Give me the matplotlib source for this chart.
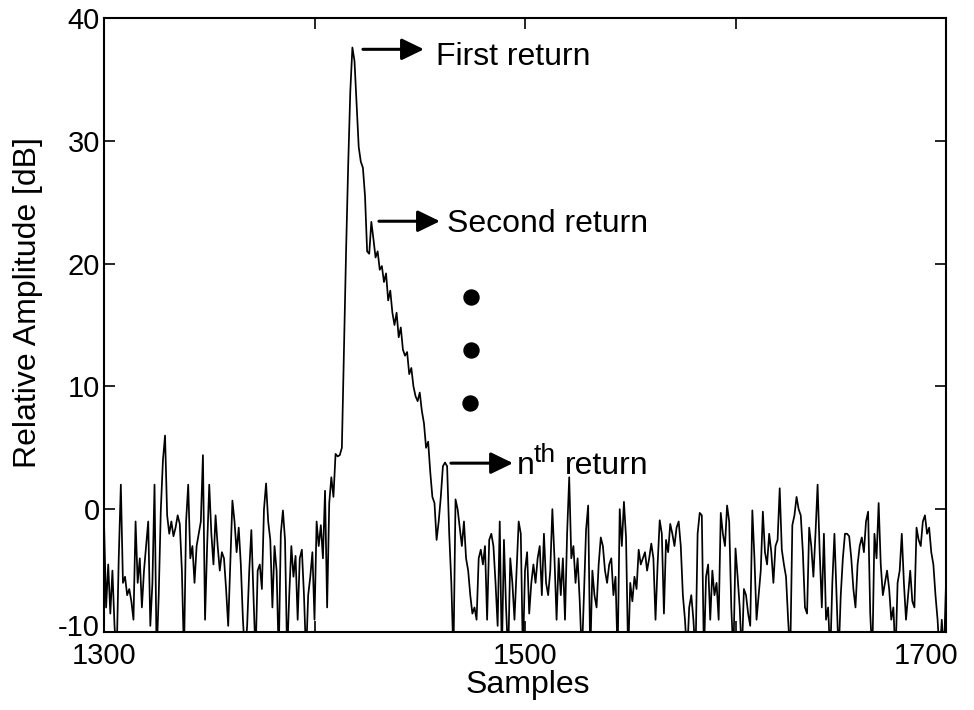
import numpy as np
import matplotlib
matplotlib.use("Agg")
import matplotlib.pyplot as plt
from matplotlib.transforms import ScaledTranslation

plt.rcParams['font.family'] = ['Liberation Sans', 'DejaVu Sans']

start_sample = 1300

# Noise before the echo (samples 1300..1413)
amp_pre = [
    -1, -8, -4.5, -8.5, -5, -9.5, -12, -4, 2, -6,
    -5.5, -7, -6.5, -7.5, -9, -1, -6, -4, -8, -5,
    -3, -1, -9.5, -6, 2, -12, -7, 0, 4, 6,
    -0.5, -2, -1, -2.2, -1.5, -0.5, -1.2, -5, -12, -1,
    2, -4, -3, -6, -3, -2, -1, 4.4, -9, -3,
    2, -2, -4.5, -0.5, -3, -5, -3.5, -4, -6.5, -9.5,
    -4.5, 0.7, -1, -3.5, -1.5, -4.5, -9, -12, -9.5, -5,
    -1.7, -7, -12, -5, -4.5, -6.5, 0, 2.1, -1, -2.5,
    -8, -3, -5, -12, -2, -0.1, -2.5, -12, -7, -3,
    -5.5, -3.8, -9, -4, -3.3, -7, -12, -7, -5.5, -3.5,
    -9, -1, -3, -1.3, -4, 1.5, -8, 0.5, 2.6, 1,
    4.5, 4.3, 4.4, 5,
]

# Echo: first return, decay, second ... nth return (samples 1414..1466)
amp_echo = [
    13, 21, 28, 34, 37.6, 36.5, 33, 29.5, 28.3, 27.8,
    25.5, 21, 20.8, 23.4, 22, 20.5, 21, 19.5, 19.8, 18.5,
    19.2, 17, 17.8, 16, 15, 16, 14, 14.8, 13, 12.5,
    12.8, 11, 11.5, 10, 9.2, 8.8, 9.5, 8, 7, 5,
    5.5, 3, 1, 0.5, -2.5, -1, 1, 3.5, 3.8, 3.5,
    -2, -6, -12,
]

# Noise after the echo (samples 1467..1700)
amp_post = [
    0.8, 0, -1.5, -3, -1, -4, -5, -7, -8.5, -8,
    -9, -4, -3.3, -4.5, -3, -9, -2.5, -2, -3, -6,
    -9.5, -1, -12, -2.5, -8, -12, -4, -6, -9, -5,
    -1, -2, -12, -5, -3.5, -8.5, -6, -4.5, -6, -4,
    -3, -7, -2, -6, -7, -5, 0, -4, -9, -4,
    -7, -4, -9, -2, 2.6, -4, -3, -6, -4, -7.5,
    -12, -7, -1.7, 0.3, -12, -5, -7, -8, -4.5, -2.3,
    -3, -5, -6, -4.5, -4, -7, -5.5, -12, 0, -3,
    0.6, -2.3, -12, -6, -7.5, -5.5, -6.5, -3.3, -4.5, -4,
    -3.5, -5, -4, -2.8, -4, -9, -4.5, -0.9, -2, -8.5,
    -2.5, -3.5, -1.2, -2, -3, -1.5, -1, -3, -7, -9,
    -12, -8, -7, -9, -12, -2, -0.3, -0.5, -12, -5.5,
    -4.5, -9, -5, -7, -6, -9, -0.3, -2, -3, 0.3,
    -1, -8, -12, -3.2, -5.5, -8, -12, -6.5, -7, -8.5,
    -9.5, -0.1, -4, -9, -7, -5, -0.2, -3.5, -4.5, -2,
    -3.5, -6, -3, -2.5, 1.7, -3.3, -4.5, -5.5, -9, -12,
    -1.3, -0.5, 1, 0, -0.5, -3.5, -8, -8.5, -1.5, -3,
    -5.5, -2, 2, -3.5, -8, -2, -9, -8, -12, -6,
    -2, -7, -12, -7, -4, -2, -2, -2.2, -4, -6.5,
    -8, -4.5, -3, -2.3, -3.5, -1, -0.2, -8.5, -12, -2,
    -4, 0.5, -4.5, -7, -6, -5, -6.5, -9, -8, -12,
    -6, -5, -2, -6, -9, -7, -5, -7.5, -8, -1.5,
    -2.5, -3, -1, -0.5, -2, -1.5, -3.5, -4.5, -7, -9,
    -12, -9, -12, -6,
]

amplitude = np.array(amp_pre + amp_echo + amp_post, dtype=float)
samples = start_sample + np.arange(len(amplitude))

x_ticks = [1300, 1400, 1500, 1600, 1700]
x_tick_labels = ['1300', '', '1500', '', '1700']
y_ticks = [-10, 0, 10, 20, 30, 40]
y_tick_labels = ['-10', '0', '10', '20', '30', '40']

# annotation anchors (data units)
first_arrow = ((1423, 37.45), (1452, 37.45))
second_arrow = ((1430.6, 23.45), (1459.6, 23.45))
nth_arrow = ((1464.8, 3.75), (1494.3, 3.75))
dots_x = [1474.3, 1474.3, 1474.0]
dots_y = [17.3, 13.0, 8.66]

fig = plt.figure(figsize=(9.74, 7.10), dpi=100)
ax = fig.add_axes([104 / 974, 78 / 710, 842 / 974, 614 / 710])

ax.plot(samples, amplitude, color='black', lw=1.25)
ax.set_xlim(1300, 1700)
ax.set_ylim(-10, 40)
ax.set_xticks(x_ticks)
ax.set_xticklabels(x_tick_labels)
ax.set_yticks(y_ticks)
ax.set_yticklabels(y_tick_labels)

for sp in ax.spines.values():
    sp.set_linewidth(1.5)
ax.tick_params(axis='both', direction='in', length=8, width=1.2,
               top=True, right=True, labelsize=21)
ax.tick_params(axis='x', pad=7)
ax.tick_params(axis='y', pad=3)

# MATLAB-like nudges of the edge tick labels
xlabels = ax.get_xticklabels()
xlabels[-1].set_transform(xlabels[-1].get_transform() +
                          ScaledTranslation(-0.2, 0, fig.dpi_scale_trans))
ylabels = ax.get_yticklabels()
ylabels[0].set_transform(ylabels[0].get_transform() +
                         ScaledTranslation(0, 0.07, fig.dpi_scale_trans))

ax.set_xlabel('Samples', fontsize=23)
ax.set_ylabel('Relative Amplitude [dB]', fontsize=23)
ax.xaxis.set_label_coords(0.5036, -0.062)
ax.yaxis.set_label_coords(-0.0725, 0.536)

arrowprops = dict(arrowstyle='-|>,head_length=0.68,head_width=0.33',
                  mutation_scale=20, lw=2.2, color='black',
                  shrinkA=0, shrinkB=0)
for tail, head in (first_arrow, second_arrow, nth_arrow):
    ax.annotate('', xy=head, xytext=tail, xycoords='data',
                textcoords='data', arrowprops=arrowprops)

ax.text(1457.7, 36.16, 'First return', fontsize=23, va='baseline', ha='left')
ax.text(1463.0, 22.56, 'Second return', fontsize=23, va='baseline', ha='left')
ax.text(1496.2, 2.85, 'n', fontsize=23, va='baseline', ha='left')
ax.text(1504.0, 3.85, 'th', fontsize=19, va='baseline', ha='left')
ax.text(1519.0, 2.85, 'return', fontsize=23, va='baseline', ha='left')

ax.plot(dots_x, dots_y, 'o', color='black', ms=10.8, ls='none')

fig.savefig('out.png', dpi=100)
